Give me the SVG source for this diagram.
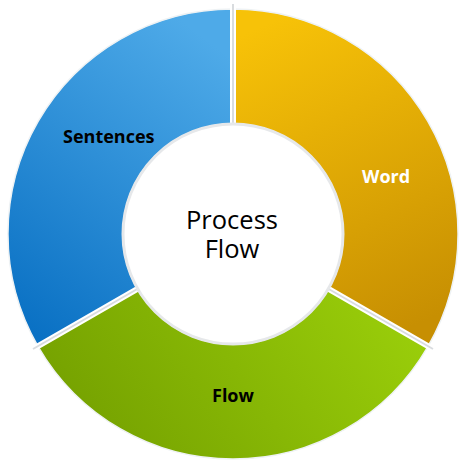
<svg xmlns="http://www.w3.org/2000/svg" width="468" height="468" viewBox="0 0 468 468">
  <defs>
    <linearGradient id="gBlue" x1="0.7" y1="0" x2="0.2" y2="1">
      <stop offset="0" stop-color="#4eaae8"/>
      <stop offset="1" stop-color="#0a71c4"/>
    </linearGradient>
    <linearGradient id="gOrange" x1="0.3" y1="0" x2="0.6" y2="1">
      <stop offset="0" stop-color="#f7c208"/>
      <stop offset="1" stop-color="#c78f02"/>
    </linearGradient>
    <linearGradient id="gGreen" x1="0" y1="0.6" x2="1" y2="0.3">
      <stop offset="0" stop-color="#74a000"/>
      <stop offset="1" stop-color="#9ace0a"/>
    </linearGradient>
  </defs>
  <style>
    .seg { stroke: #eef2f4; stroke-width: 1.5; }
    .gapW { stroke: #ffffff; stroke-width: 6; fill: none; }
    .gapG { stroke: #d9dcdf; stroke-width: 2; fill: none; }
    .lbl { font-family: "Open Sans", "Noto Sans", "DejaVu Sans", sans-serif; font-weight: bold; font-size: 18px; }
    .ctr { font-family: "Open Sans", "Noto Sans", "DejaVu Sans", sans-serif; font-size: 25.5px; fill: #000; text-anchor: middle; }
  </style>
  <rect width="468" height="468" fill="#ffffff"/>
  <g id="seg-sentences">
    <path class="seg" fill="url(#gBlue)" d="M 38.1 346.5 A 225 225 0 0 1 233 9 L 233 124 A 110 110 0 0 0 137.7 289 Z"/>
    <text class="lbl" x="63" y="143" fill="#000000">Sentences</text>
  </g>
  <g id="seg-word">
    <path class="seg" fill="url(#gOrange)" d="M 233 9 A 225 225 0 0 1 427.9 346.5 L 328.3 289 A 110 110 0 0 0 233 124 Z"/>
    <text class="lbl" x="362" y="183" fill="#ffffff">Word</text>
  </g>
  <g id="seg-flow">
    <path class="seg" fill="url(#gGreen)" d="M 427.9 346.5 A 225 225 0 0 1 38.1 346.5 L 137.7 289 A 110 110 0 0 0 328.3 289 Z"/>
    <text class="lbl" x="212" y="402" fill="#000000">Flow</text>
  </g>
  <g id="dividers">
    <path class="gapW" d="M 233 4 L 233 126 M 139 288 L 33 349 M 327 288 L 433 349"/>
    <path class="gapG" d="M 233 4 L 233 126 M 139 288 L 33 349 M 327 288 L 433 349"/>
  </g>
  <g id="center">
    <circle cx="233" cy="234" r="110" fill="#ffffff" stroke="#e6e8ea" stroke-width="3"/>
    <text class="ctr" x="232" y="229">Process<tspan x="232" y="258">Flow</tspan></text>
  </g>
</svg>
